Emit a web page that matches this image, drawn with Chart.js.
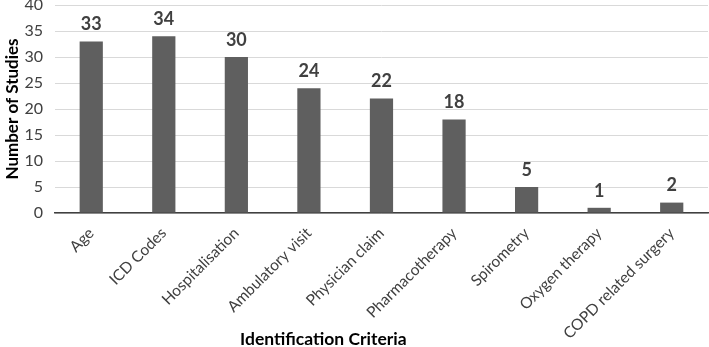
<!DOCTYPE html>
<html>
<head>
<meta charset="utf-8">
<script src="https://cdn.jsdelivr.net/npm/chart.js@4.4.0/dist/chart.umd.min.js"></script>
<style>
  html, body { margin: 0; padding: 0; background: #fff; }
  #wrap { width: 709px; height: 347px; }
</style>
</head>
<body>
<div id="wrap"><canvas id="studyChart"></canvas></div>
<script>
const categories = ['Age', 'ICD Codes', 'Hospitalisation', 'Ambulatory visit', 'Physician claim',
  'Pharmacotherapy', 'Spirometry', 'Oxygen therapy', 'COPD related surgery'];
const studyCounts = [33, 34, 30, 24, 22, 18, 5, 1, 2];
const yTicks = [0, 5, 10, 15, 20, 25, 30, 35, 40];
const xTitle = 'Identification Criteria';

const textColor = '#404040';
const fontFamily = 'Lato, "Open Sans", sans-serif';

// Draws the count above each bar
const valueLabels = {
  id: 'valueLabels',
  afterDatasetsDraw(chart) {
    const ctx = chart.ctx;
    const meta = chart.getDatasetMeta(0);
    ctx.save();
    ctx.fillStyle = textColor;
    ctx.font = 'bold 18px ' + fontFamily;
    ctx.textAlign = 'center';
    ctx.textBaseline = 'bottom';
    meta.data.forEach((bar, i) => {
      ctx.fillText(String(studyCounts[i]), bar.x, bar.y - 8);
    });
    ctx.restore();
  }
};

// x axis title sits left of the plot centre in the original, so draw it by hand
const xAxisTitle = {
  id: 'xAxisTitle',
  afterDraw(chart) {
    const ctx = chart.ctx;
    const area = chart.chartArea;
    ctx.save();
    ctx.fillStyle = '#000';
    ctx.font = 'bold 17.5px ' + fontFamily;
    ctx.textAlign = 'center';
    ctx.textBaseline = 'middle';
    ctx.fillText(xTitle, area.left + (area.right - area.left) * 0.411, chart.height - 8);
    ctx.restore();
  }
};

new Chart(document.getElementById('studyChart'), {
  type: 'bar',
  data: {
    labels: categories,
    datasets: [{
      data: studyCounts,
      backgroundColor: '#5f5f5f',
      categoryPercentage: 1,
      barPercentage: 0.32
    }]
  },
  options: {
    responsive: true,
    maintainAspectRatio: false,
    animation: false,
    layout: { padding: { top: 5, right: 1, bottom: 0, left: 2 } },
    plugins: {
      legend: { display: false },
      tooltip: { enabled: false }
    },
    scales: {
      x: {
        afterFit(axis) {
          axis.height = 134;
        },
        grid: { display: false },
        border: { display: true, color: '#404040', width: 1.5 },
        ticks: {
          color: textColor,
          font: { family: fontFamily, size: 15.5 },
          minRotation: 45,
          maxRotation: 45,
          autoSkip: false,
          padding: 3
        }
      },
      y: {
        min: 0,
        max: 40,
        afterBuildTicks(axis) {
          axis.ticks = yTicks.map(v => ({ value: v }));
        },
        grid: { color: '#d9d9d9', drawTicks: true, tickLength: 12, tickColor: 'rgba(0,0,0,0)', lineWidth: 1 },
        border: { display: false },
        ticks: {
          color: textColor,
          font: { family: fontFamily, size: 16, lineHeight: 0.6 },
          autoSkip: false,
          padding: 0
        },
        title: {
          display: true,
          text: 'Number of Studies',
          color: '#000',
          font: { family: fontFamily, size: 17, weight: 'bold' },
          padding: { top: 0, bottom: 2 }
        }
      }
    }
  },
  plugins: [valueLabels, xAxisTitle]
});
</script>
</body>
</html>
